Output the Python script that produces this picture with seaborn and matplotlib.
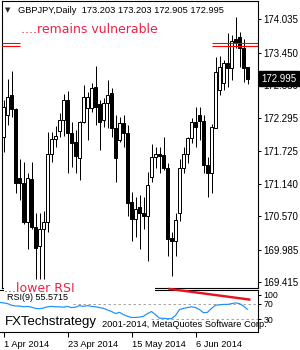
import numpy as np
import pandas as pd
import matplotlib
matplotlib.use('Agg')
import matplotlib.pyplot as plt
import seaborn as sns
from matplotlib.patches import Rectangle
from matplotlib.transforms import ScaledTranslation

sns.set_style('white')
plt.rcParams['font.family'] = ['Liberation Sans', 'DejaVu Sans']

# ---------------- data ----------------
opens = [171.970, 172.360, 172.705, 172.460, 171.253, 171.165, 170.465, 171.235, 170.378, 170.045,
         170.343, 170.465, 171.673, 171.935, 172.075, 172.268, 172.618, 172.040, 171.883, 171.603,
         172.233, 172.478, 172.478, 172.845, 172.548, 172.268, 172.565, 172.740, 172.128, 171.918,
         172.215, 172.040, 170.833, 170.518, 170.745, 170.640, 170.570, 171.270, 171.620, 171.673,
         171.655, 171.428, 170.185, 170.133, 170.640, 171.428, 171.673, 171.953, 172.233, 172.355,
         172.250, 171.480, 171.340, 172.128, 172.793, 172.915, 173.265, 173.178, 173.685, 173.720,
         173.528, 173.203]
highs = [172.618, 172.985, 173.125, 172.470, 171.585, 171.533, 171.340, 171.533, 170.640, 170.640,
         170.658, 172.058, 172.058, 172.163, 172.390, 172.723, 172.775, 172.233, 172.093, 172.250,
         172.880, 172.758, 172.915, 173.213, 172.618, 172.653, 172.968, 172.828, 172.355, 172.320,
         172.355, 172.180, 171.000, 170.920, 170.955, 170.920, 171.358, 171.848, 171.795, 171.795,
         171.970, 171.515, 170.290, 170.640, 171.585, 171.795, 171.970, 172.303, 172.495, 172.495,
         172.355, 171.620, 172.198, 173.370, 173.388, 173.318, 173.790, 173.755, 174.070, 173.808,
         173.685, 173.203]
lows = [171.708, 172.180, 172.320, 170.990, 170.868, 170.430, 169.993, 170.343, 169.468, 169.468,
        169.468, 170.290, 171.533, 171.795, 171.970, 171.988, 171.340, 171.445, 171.340, 171.218,
        172.215, 171.918, 172.408, 172.180, 171.743, 172.145, 172.128, 171.970, 171.183, 171.883,
        171.795, 170.570, 170.133, 170.203, 169.993, 170.343, 169.783, 171.183, 171.428, 171.340,
        171.393, 169.870, 169.520, 169.870, 170.483, 171.340, 171.515, 171.865, 171.795, 171.918,
        171.340, 170.920, 170.990, 172.128, 172.705, 172.793, 172.845, 172.968, 173.528, 173.195,
        172.933, 172.905]
closes = [172.495, 172.670, 172.460, 171.165, 171.165, 170.465, 171.253, 170.378, 170.010, 170.343,
          170.465, 171.673, 171.935, 171.988, 172.268, 172.618, 172.040, 171.865, 171.638, 172.233,
          172.670, 172.670, 172.828, 172.495, 172.233, 172.565, 172.705, 172.128, 171.603, 172.215,
          172.040, 170.815, 170.518, 170.693, 170.640, 170.570, 171.130, 171.620, 171.673, 171.638,
          171.428, 170.168, 170.133, 170.500, 171.428, 171.673, 171.953, 172.233, 172.150, 172.250,
          171.480, 171.340, 172.145, 173.108, 173.195, 173.265, 173.178, 173.650, 173.615, 173.528,
          173.178, 172.995]

# RSI(9) values, first value belongs to the bar before the first visible candle
rsi_values = [73, 72, 70, 66, 64, 64, 62, 63, 61, 58, 57,
              59, 62, 63, 62, 62, 61, 63, 60, 61, 65,
              63, 65, 63, 62, 60, 58, 54, 50, 45, 48,
              42, 38, 35, 35, 36, 38, 45, 50, 42, 33,
              33, 32, 32, 40, 55, 58, 60, 62, 60, 55,
              47, 48, 58, 66, 67, 68, 68, 70, 72, 70,
              64, 55.57]

resistance = [173.62, 173.56]
rsi_div_idx = [41.25, 61.75]
rsi_div_val = [107.5, 80.0]

price_ticks = [174.035, 173.450, 172.880, 172.295, 171.725, 171.140, 170.570, 169.985, 169.415]
date_tick_idx = [0, 16, 32, 48]
date_tick_labels = ['1 Apr 2014', '23 Apr 2014', '15 May 2014', '6 Jun 2014']
header = 'GBPJPY,Daily  173.203 173.203 172.905 172.995'

# ---------------- figure ----------------
W, H = 300, 350
fig = plt.figure(figsize=(W / 100, H / 100), dpi=100)
fig.patch.set_facecolor('white')

def rect(x0, y0, x1, y1):
    return [x0 / W, 1 - y1 / H, (x1 - x0) / W, (y1 - y0) / H]

def fx(x):
    return x / W

def fy(y):
    return 1 - y / H

PX = 0.72  # one pixel in points
ax = fig.add_axes(rect(2, 1, 257.5, 287.5))
ax2 = fig.add_axes(rect(0, 289.5, 257.5, 332))

df = pd.DataFrame({'o': opens, 'h': highs, 'l': lows, 'c': closes})
df['i'] = np.arange(len(df))
df['up'] = df['c'] >= df['o']
df['blo'] = df[['o', 'c']].min(axis=1)
df['bh'] = (df['c'] - df['o']).abs().clip(lower=0.012)

ax.vlines(df['i'], df['l'], df['h'], color='black', lw=PX, zorder=2)
ax.bar(df['i'], df['bh'], bottom=df['blo'], width=0.55,
       color=np.where(df['up'], 'white', 'black'), edgecolor='black', lw=PX, zorder=3)

# resistance lines
ax.hlines(resistance, -0.375, 4.2, color='#FF0000', lw=PX * 1.1, zorder=4)
ax.hlines(resistance, 52.0, 63.5, color='#FF0000', lw=PX * 1.1, zorder=4)

ax.set_xlim(-0.375, 63.5)
ax.set_ylim(169.321, 174.36)
ax.yaxis.tick_right()
ax.set_yticks(price_ticks)
ax.set_yticklabels([f'{t:.3f}' for t in price_ticks])
ax.tick_params(axis='y', which='major', direction='out', length=2.5, width=PX,
               labelsize=7, pad=2, colors='black', right=True, left=False)
ax.tick_params(axis='x', bottom=False, labelbottom=False)
for s in ax.spines.values():
    s.set_color('black')
    s.set_linewidth(PX * 1.1)
ax.grid(False)

# ---------------- RSI panel ----------------
rsi_df = pd.DataFrame({'i': np.arange(-1, len(rsi_values) - 1), 'rsi': rsi_values})
sns.lineplot(data=rsi_df, x='i', y='rsi', ax=ax2, color='#1E90FF', lw=PX * 1.2, zorder=3)
ax2.hlines([70], 17.25, 63.5, color='#A8A8A8', lw=PX, linestyles=(0, (2.5, 2.5)), zorder=2)
ax2.hlines([30], 36.75, 63.5, color='#A8A8A8', lw=PX, linestyles=(0, (2.5, 2.5)), zorder=2)
ax2.plot(rsi_div_idx, rsi_div_val, color='#E8101E', lw=PX * 2.4, zorder=4,
         solid_capstyle='butt', clip_on=False)
ax2.set_xlim(-0.875, 63.5)
ax2.set_ylim(-1.75, 105.75)
ax2.set_xlabel('')
ax2.set_ylabel('')
ax2.yaxis.tick_right()
ax2.set_yticks([93, 70, 30])
ax2.set_yticklabels(['100', '70', '30'])
ax2.tick_params(axis='y', direction='out', length=2.5, width=PX, labelsize=6.3, pad=2,
                right=True, left=False, colors='black')
ax2.set_xticks(date_tick_idx)
ax2.set_xticklabels(date_tick_labels)
ax2.tick_params(axis='x', direction='out', length=3.5, width=PX, labelsize=6.7, pad=2.5,
                bottom=True, colors='black')
for lab in ax2.get_xticklabels():
    lab.set_ha('left')
    lab.set_transform(lab.get_transform() + ScaledTranslation(1 / 100, 0, fig.dpi_scale_trans))
ax2.spines['left'].set_visible(False)
for k in ['top', 'right', 'bottom']:
    ax2.spines[k].set_color('black')
    ax2.spines[k].set_linewidth(PX * 1.1)
ax2.grid(False)

# white label box at bottom-left
fig.add_artist(Rectangle((fx(4), fy(291.5)), fx(151), 6 / H, transform=fig.transFigure,
                         facecolor='white', edgecolor='none', zorder=5))

# ---------------- texts ----------------
fig.text(fx(5), fy(10), '\u25BC', family='DejaVu Sans', fontsize=5, va='center', ha='left', zorder=7)
fig.text(fx(18), fy(10.5), header, fontsize=6.7, va='center', ha='left', color='black', zorder=7)
fig.text(fx(21), fy(33), '....remains vulnerable', family='DejaVu Sans', fontsize=9,
         va='baseline', ha='left', color='#EE2244', zorder=7)
fig.text(fx(4), fy(291.7), '...lower RSI', family='DejaVu Sans', fontsize=9,
         va='baseline', ha='left', color='#EE2244', zorder=7)
fig.text(fx(7), fy(298), 'RSI(9) 55.5715', fontsize=6.5, va='center', ha='left',
         color='black', zorder=7)
fig.text(fx(5), fy(324.5), 'FXTechstrategy', fontsize=9.5, va='baseline', ha='left',
         color='black', zorder=7)
fig.text(fx(102), fy(327), '2001-2014, MetaQuotes Software Corp.', fontsize=6.7,
         va='baseline', ha='left', color='black', zorder=7)
fig.text(fx(261), fy(78.6), f'{closes[-1]:.3f}', fontsize=7, va='center', ha='left',
         color='white', zorder=8,
         bbox=dict(boxstyle='square,pad=0.25', facecolor='black', edgecolor='black'))

fig.savefig('out.png', dpi=100, facecolor='white')
